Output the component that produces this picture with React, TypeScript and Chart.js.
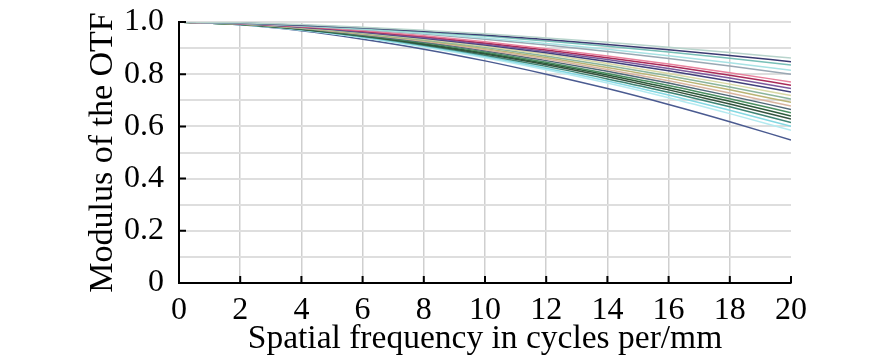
import React, { useEffect, useRef } from "react";
import { Chart, registerables } from "chart.js";

Chart.register(...registerables);

// Spatial frequency (cycles/mm)
const freq = [0, 2, 4, 6, 8, 10, 12, 14, 16, 18, 20];

// MTF curves
const s01 = [1, 0.997, 0.990, 0.980, 0.968, 0.955, 0.939, 0.922, 0.903, 0.883, 0.862];
const s02 = [1, 0.996, 0.988, 0.978, 0.965, 0.950, 0.933, 0.914, 0.894, 0.872, 0.848];
const s03 = [1, 0.996, 0.987, 0.976, 0.962, 0.946, 0.927, 0.907, 0.885, 0.861, 0.835];
const s04 = [1, 0.995, 0.986, 0.973, 0.957, 0.939, 0.918, 0.896, 0.871, 0.844, 0.815];
const s05 = [1, 0.995, 0.985, 0.971, 0.954, 0.934, 0.912, 0.887, 0.860, 0.831, 0.800];
const s06 = [1, 0.994, 0.983, 0.967, 0.947, 0.924, 0.898, 0.870, 0.839, 0.806, 0.770];
const s07 = [1, 0.994, 0.982, 0.965, 0.944, 0.920, 0.893, 0.863, 0.831, 0.796, 0.758];
const s08 = [1, 0.994, 0.981, 0.963, 0.941, 0.916, 0.887, 0.856, 0.822, 0.785, 0.745];
const s09 = [1, 0.993, 0.980, 0.961, 0.938, 0.912, 0.882, 0.849, 0.813, 0.774, 0.732];
const s10 = [1, 0.993, 0.979, 0.959, 0.935, 0.907, 0.876, 0.841, 0.803, 0.762, 0.718];
const s11 = [1, 0.993, 0.978, 0.957, 0.932, 0.903, 0.870, 0.833, 0.794, 0.751, 0.705];
const s12 = [1, 0.992, 0.977, 0.955, 0.929, 0.898, 0.864, 0.826, 0.785, 0.740, 0.692];
const s13 = [1, 0.992, 0.976, 0.953, 0.926, 0.894, 0.858, 0.818, 0.775, 0.728, 0.678];
const s14 = [1, 0.992, 0.975, 0.951, 0.923, 0.890, 0.852, 0.811, 0.766, 0.717, 0.665];
const s15 = [1, 0.991, 0.974, 0.949, 0.920, 0.885, 0.846, 0.803, 0.757, 0.706, 0.652];
const s16 = [1, 0.991, 0.973, 0.948, 0.917, 0.881, 0.841, 0.797, 0.748, 0.696, 0.640];
const s17 = [1, 0.991, 0.972, 0.946, 0.914, 0.877, 0.836, 0.790, 0.740, 0.686, 0.628];
const s18 = [1, 0.990, 0.971, 0.944, 0.911, 0.873, 0.830, 0.782, 0.731, 0.675, 0.615];
const s19 = [1, 0.990, 0.970, 0.942, 0.908, 0.868, 0.823, 0.774, 0.720, 0.662, 0.600];
const s20 = [1, 0.990, 0.968, 0.940, 0.904, 0.863, 0.817, 0.766, 0.710, 0.649, 0.585];
const s21 = [1, 0.989, 0.966, 0.934, 0.896, 0.851, 0.800, 0.745, 0.684, 0.618, 0.548];

const seriesValues = [s01, s02, s03, s04, s05, s06, s07, s08, s09, s10, s11, s12, s13, s14, s15, s16, s17, s18, s19, s20, s21];
const seriesColors = [
  "#b8d4cc", "#3a3a72", "#78c0b8", "#a8e2e4", "#9aa8b4", "#e8809c", "#a82a58",
  "#7a5a9c", "#40407c", "#d8d8a4", "#8ab49c", "#bab474", "#d8b4a0", "#506878",
  "#4a8e60", "#2c5a3a", "#34523e", "#3f8474", "#84d8e2", "#b4eaf0", "#4a5a90",
];

const yTickValues = [0, 0.2, 0.4, 0.6, 0.8, 1.0];
const xTickValues = [0, 2, 4, 6, 8, 10, 12, 14, 16, 18, 20];

const FONT = "'Liberation Serif', 'Times New Roman', serif";

const inwardTicks = {
  id: "inwardTicks",
  afterDraw(chart: any) {
    const { ctx, scales, chartArea } = chart;
    ctx.save();
    ctx.strokeStyle = "#000";
    ctx.lineWidth = 2;
    ctx.beginPath();
    for (const v of xTickValues) {
      const x = scales.x.getPixelForValue(v);
      ctx.moveTo(x, chartArea.bottom);
      ctx.lineTo(x, chartArea.bottom - 7);
    }
    for (const v of yTickValues) {
      const y = scales.y.getPixelForValue(v);
      ctx.moveTo(chartArea.left, y);
      ctx.lineTo(chartArea.left + 7, y);
    }
    ctx.stroke();
    ctx.restore();
  },
};

export default function App() {
  const ref = useRef<HTMLCanvasElement>(null);
  useEffect(() => {
    document.body.style.margin = "0";
    const chart = new Chart(ref.current!, {
      type: "line",
      data: {
        datasets: seriesValues.map((vals, i) => ({
          data: freq.map((f, j) => ({ x: f, y: vals[j] })),
          borderColor: seriesColors[i],
          borderWidth: 1.5,
          pointRadius: 0,
          cubicInterpolationMode: "monotone" as const,
          fill: false,
        })),
      },
      options: {
        responsive: false,
        animation: false,
        layout: { padding: { left: 0, right: 95, top: 22, bottom: 0 } },
        plugins: { legend: { display: false }, tooltip: { enabled: false } },
        scales: {
          x: {
            type: "linear",
            min: 0,
            max: 20,
            afterFit: (s: any) => { s.height = 81; },
            border: { color: "#000", width: 2 },
            grid: {
              drawTicks: false,
              color: (c: any) => (c.tick && c.tick.value === 20 ? "rgba(0,0,0,0)" : "#cfcfcf"),
              lineWidth: 1.5,
            },
            ticks: {
              stepSize: 2,
              autoSkip: false,
              maxRotation: 0,
              padding: 8,
              color: "#000",
              font: { family: FONT, size: 32 },
            },
            title: {
              display: true,
              text: "Spatial frequency in cycles per/mm",
              color: "#000",
              font: { family: FONT, size: 33.5 },
              padding: { top: 0, bottom: 5 },
            },
          },
          y: {
            type: "linear",
            min: 0,
            max: 1,
            afterFit: (s: any) => { s.width = 179; },
            border: { color: "#000", width: 2 },
            grid: {
              drawTicks: false,
              color: "#dedede",
              lineWidth: 2,
            },
            ticks: {
              stepSize: 0.1,
              autoSkip: false,
              padding: 15,
              color: "#000",
              font: { family: FONT, size: 32, lineHeight: 0.4 },
              callback: (v: any) => {
                const n = Math.round(Number(v) * 10);
                if (n % 2 !== 0) return "";
                if (n === 0) return "0";
                return (n / 10).toFixed(1);
              },
            },
            title: {
              display: true,
              text: "Modulus of the OTF",
              color: "#000",
              font: { family: FONT, size: 34 },
              padding: { top: 83, bottom: 0 },
            },
          },
        },
      },
      plugins: [inwardTicks],
    });
    return () => chart.destroy();
  }, []);
  return <canvas ref={ref} width={886} height={364} style={{ display: "block", width: 886, height: 364 }} />;
}
